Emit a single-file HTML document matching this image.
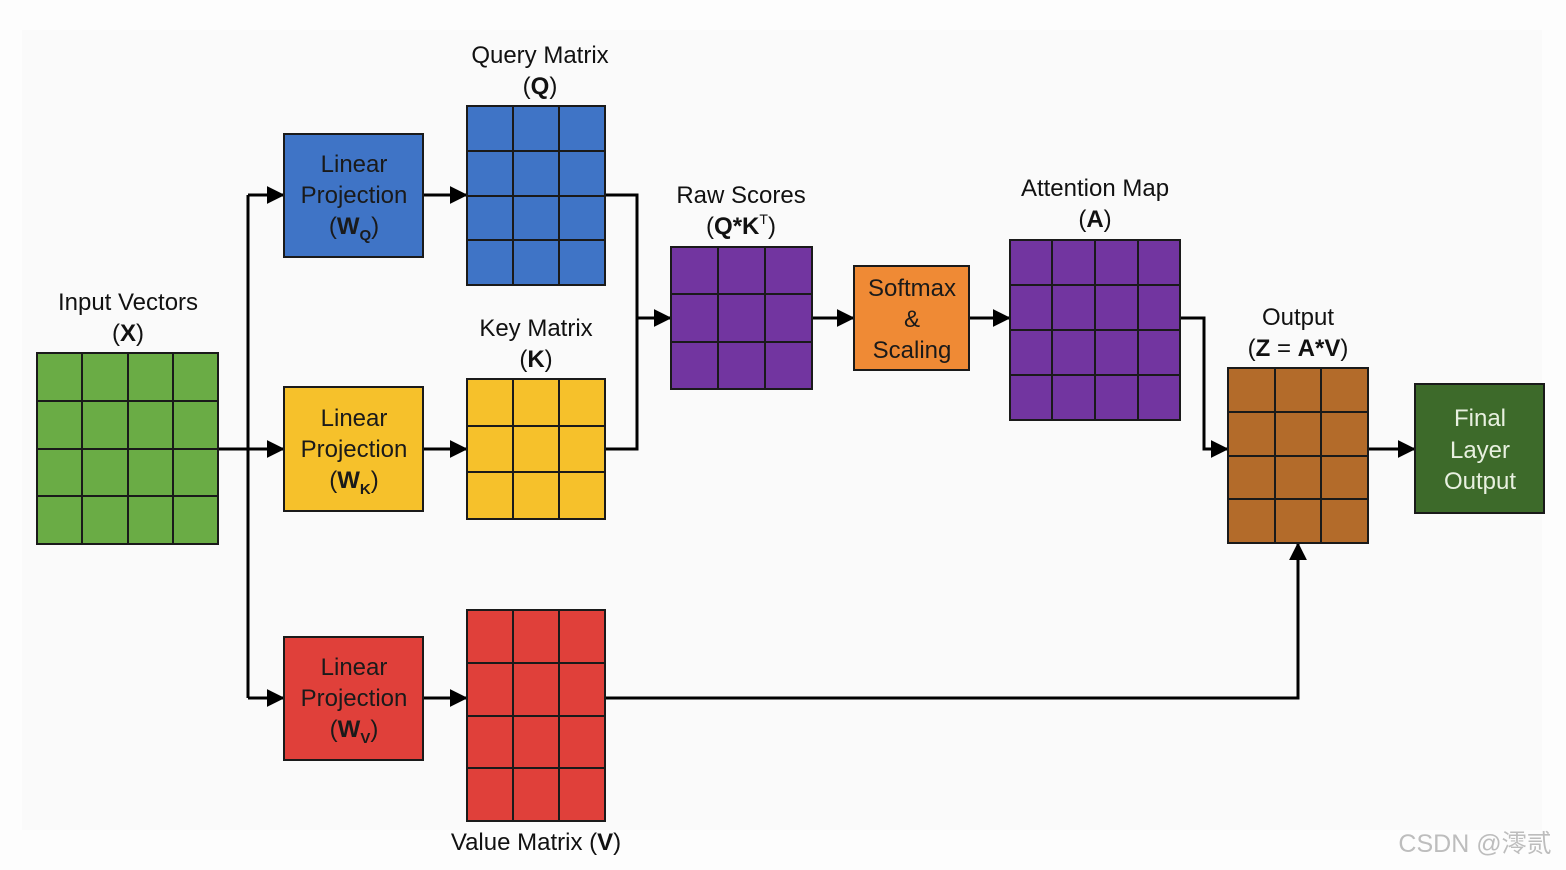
<!DOCTYPE html>
<html><head><meta charset="utf-8"><style>
html,body{margin:0;padding:0;background:#fff;}
svg{display:block;font-family:"Liberation Sans",Arial,sans-serif;}
</style></head><body>
<svg width="1566" height="870" viewBox="0 0 1566 870" xmlns="http://www.w3.org/2000/svg">
<defs>
<marker id="ar" markerWidth="18" markerHeight="18" refX="9" refY="5" orient="auto" markerUnits="userSpaceOnUse" viewBox="0 0 10 10">
<path d="M0,0 L10,5 L0,10 z" fill="#000"/></marker>
</defs>
<rect width="1566" height="870" fill="#fdfdfd"/>
<rect x="22" y="30" width="1520" height="800" fill="#fafafa"/>
<g fill="none" stroke="#000" stroke-width="3">
<line x1="218" y1="449" x2="248" y2="449"/>
<line x1="248" y1="195" x2="248" y2="698"/>
<line x1="248" y1="195" x2="283" y2="195" marker-end="url(#ar)"/>
<line x1="248" y1="449" x2="283" y2="449" marker-end="url(#ar)"/>
<line x1="248" y1="698" x2="283" y2="698" marker-end="url(#ar)"/>
<line x1="423" y1="195" x2="466" y2="195" marker-end="url(#ar)"/>
<line x1="423" y1="449" x2="466" y2="449" marker-end="url(#ar)"/>
<line x1="423" y1="698" x2="466" y2="698" marker-end="url(#ar)"/>
<polyline points="605,195 637,195 637,449 605,449"/>
<line x1="637" y1="318" x2="670" y2="318" marker-end="url(#ar)"/>
<line x1="812" y1="318" x2="853" y2="318" marker-end="url(#ar)"/>
<line x1="969" y1="318" x2="1009" y2="318" marker-end="url(#ar)"/>
<polyline points="1180,318 1204,318 1204,449 1227,449" marker-end="url(#ar)"/>
<polyline points="605,698 1298,698 1298,544" marker-end="url(#ar)"/>
<line x1="1368" y1="449" x2="1414" y2="449" marker-end="url(#ar)"/>
</g>
<g stroke="#1a1a1a" stroke-width="2">
<rect x="37" y="353" width="181" height="191" fill="#6aac45"/>
<path d="M82,353V544M128,353V544M173,353V544M37,401H218M37,449H218M37,496H218"/>
<rect x="284" y="134" width="139" height="123" fill="#3f74c6"/>
<rect x="284" y="387" width="139" height="124" fill="#f6c12b"/>
<rect x="284" y="637" width="139" height="123" fill="#e0403a"/>
<rect x="467" y="106" width="138" height="179" fill="#3f74c6"/>
<path d="M513,106V285M559,106V285M467,151H605M467,196H605M467,240H605"/>
<rect x="467" y="379" width="138" height="140" fill="#f6c12b"/>
<path d="M513,379V519M559,379V519M467,426H605M467,472H605"/>
<rect x="467" y="610" width="138" height="211" fill="#e0403a"/>
<path d="M513,610V821M559,610V821M467,663H605M467,716H605M467,768H605"/>
<rect x="671" y="247" width="141" height="142" fill="#7235a0"/>
<path d="M718,247V389M765,247V389M671,294H812M671,342H812"/>
<rect x="854" y="266" width="115" height="104" fill="#ef8a35"/>
<rect x="1010" y="240" width="170" height="180" fill="#7235a0"/>
<path d="M1052,240V420M1095,240V420M1138,240V420M1010,285H1180M1010,330H1180M1010,375H1180"/>
<rect x="1228" y="368" width="140" height="175" fill="#b36b2a"/>
<path d="M1275,368V543M1321,368V543M1228,412H1368M1228,456H1368M1228,499H1368"/>
<rect x="1415" y="384" width="129" height="129" fill="#3d6a2a"/>
</g>
<g font-size="24" text-anchor="middle" fill="#111">
<text x="540" y="63">Query Matrix</text>
<text x="540" y="94">(<tspan font-weight="bold">Q</tspan>)</text>
<text x="128" y="310">Input Vectors</text>
<text x="128" y="341">(<tspan font-weight="bold">X</tspan>)</text>
<text x="536" y="336">Key Matrix</text>
<text x="536" y="367">(<tspan font-weight="bold">K</tspan>)</text>
<text x="741" y="203">Raw Scores</text>
<text x="741" y="234">(<tspan font-weight="bold">Q*K</tspan><tspan font-size="14" dy="-10">T</tspan><tspan dy="10">)</tspan></text>
<text x="1095" y="196">Attention Map</text>
<text x="1095" y="227">(<tspan font-weight="bold">A</tspan>)</text>
<text x="1298" y="325">Output</text>
<text x="1298" y="356">(<tspan font-weight="bold">Z</tspan> = <tspan font-weight="bold">A*V</tspan>)</text>
<text x="536" y="850">Value Matrix (<tspan font-weight="bold">V</tspan>)</text>
<g fill="#1a1a1a">
<text x="354" y="172">Linear</text><text x="354" y="203">Projection</text>
<text x="354" y="234">(<tspan font-weight="bold">W</tspan><tspan font-size="15" font-weight="bold" dy="6">Q</tspan><tspan dy="-6">)</tspan></text>
<text x="354" y="426">Linear</text><text x="354" y="457">Projection</text>
<text x="354" y="488">(<tspan font-weight="bold">W</tspan><tspan font-size="15" font-weight="bold" dy="6">K</tspan><tspan dy="-6">)</tspan></text>
<text x="354" y="675">Linear</text><text x="354" y="706">Projection</text>
<text x="354" y="737">(<tspan font-weight="bold">W</tspan><tspan font-size="15" font-weight="bold" dy="6">V</tspan><tspan dy="-6">)</tspan></text>
<text x="912" y="296">Softmax</text><text x="912" y="327">&amp;</text><text x="912" y="358">Scaling</text>
</g>
<g fill="#e8f0e0">
<text x="1480" y="426">Final</text><text x="1480" y="458">Layer</text><text x="1480" y="489">Output</text>
</g>
</g>
<text x="1475" y="852" font-size="25" text-anchor="middle" fill="#bdbdbd" font-family="'Liberation Sans','Noto Sans CJK SC',sans-serif">CSDN @澪贰</text>
</svg>
</body></html>
